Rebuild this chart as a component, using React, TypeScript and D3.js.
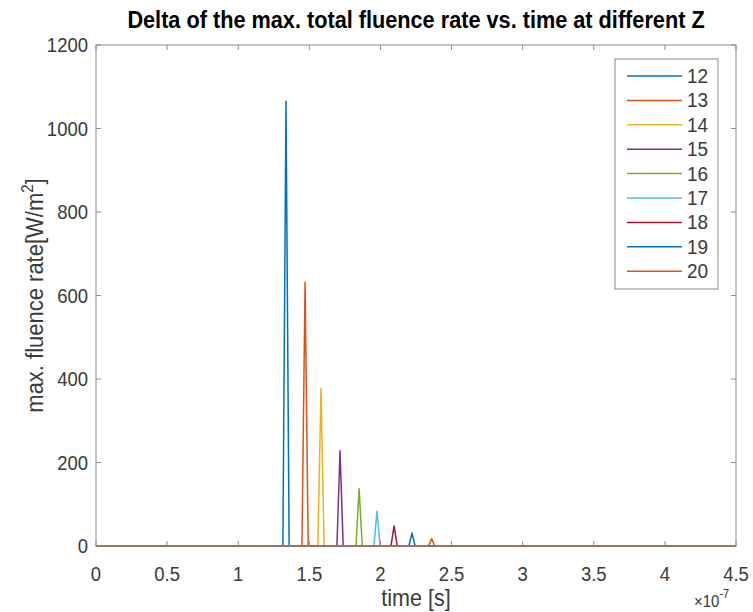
import React from 'react';
import * as d3 from 'd3';

// ---- data (time in units of 1e-7 s) ----
const seriesLabels = ['12', '13', '14', '15', '16', '17', '18', '19', '20'];
const peakTimes = [1.336, 1.47, 1.582, 1.716, 1.85, 1.976, 2.096, 2.222, 2.36];
const peakValues = [1065, 632, 377, 228, 137, 83, 48, 31, 17];
const sampleStep = 0.022;
const timeRange = [0, 4.5];
const xTicks = [0, 0.5, 1, 1.5, 2, 2.5, 3, 3.5, 4, 4.5];
const yTicks = [0, 200, 400, 600, 800, 1000, 1200];
const colors = ['#0072BD', '#D95319', '#EDB120', '#7E2F8E', '#77AC30', '#4DBEEE', '#A2142F', '#0072BD', '#D95319'];

const W = 753;
const H = 612;
const M = { left: 96, right: 17, top: 45, bottom: 66 };
const FONT = '"Liberation Sans", Arial, Helvetica, sans-serif';
const SY = 1.1; // vertical stretch of glyphs

function T(props: { x: number; y: number; anchor?: string; size: number; weight?: string; fill?: string; rotate?: number; children: React.ReactNode }) {
  const { x, y, anchor = 'start', size, weight = 'normal', fill = '#262626', rotate = 0, children } = props;
  return (
    <g transform={`translate(${x},${y}) rotate(${rotate}) scale(1,${SY})`}>
      <text x={0} y={0} textAnchor={anchor} fontSize={size} fontWeight={weight} fill={fill}>{children}</text>
    </g>
  );
}

export default function App() {
  const x = d3.scaleLinear().domain(timeRange).range([M.left, W - M.right]);
  const y = d3.scaleLinear().domain([0, 1200]).range([H - M.bottom, M.top]);
  const line = d3.line<[number, number]>().x((d) => x(d[0])).y((d) => y(d[1]));

  const series = seriesLabels.map((lab, i) => {
    const t = peakTimes[i];
    const pts: [number, number][] = [
      [timeRange[0], 0],
      [t - sampleStep, 0],
      [t, peakValues[i]],
      [t + sampleStep, 0],
      [timeRange[1], 0],
    ];
    return { lab, color: colors[i], d: line(pts) || '' };
  });

  const x0 = M.left, x1 = W - M.right, y0 = H - M.bottom, y1 = M.top;
  const axisColor = '#8c8c8c';
  const textColor = '#3a3a3a';
  const tl = 5;

  const lgX = 615, lgY = 59, lgW = 103, lgH = 230, lgStep = 24.4;

  return (
    <svg width={W} height={H} style={{ position: 'absolute', left: 0, top: 0, background: '#fff' }}
      fontFamily={FONT}>
      <rect x={0} y={0} width={W} height={H} fill="#ffffff" />
      <defs>
        <clipPath id="clip"><rect x={x0} y={y1} width={x1 - x0} height={y0 - y1 + 1} /></clipPath>
      </defs>
      <g clipPath="url(#clip)">
        {series.map((s) => (
          <path key={s.lab} d={s.d} fill="none" stroke={s.color} strokeWidth={1.5} strokeLinejoin="round" />
        ))}
      </g>
      {/* axes box */}
      <rect x={x0} y={y1} width={x1 - x0} height={y0 - y1} fill="none" stroke={axisColor} strokeWidth={1} />
      {xTicks.map((t) => (
        <g key={'xt' + t}>
          <line x1={x(t)} x2={x(t)} y1={y0} y2={y0 - tl} stroke={axisColor} />
          <line x1={x(t)} x2={x(t)} y1={y1} y2={y1 + tl} stroke={axisColor} />
          <T x={x(t)} y={y0 + 35} anchor="middle" size={18.5} fill={textColor}>{String(t)}</T>
        </g>
      ))}
      {yTicks.map((t) => (
        <g key={'yt' + t}>
          <line x1={x0} x2={x0 + tl} y1={y(t)} y2={y(t)} stroke={axisColor} />
          <line x1={x1} x2={x1 - tl} y1={y(t)} y2={y(t)} stroke={axisColor} />
          <T x={x0 - 8} y={y(t) + 7} anchor="end" size={18.5} fill={textColor}>{String(t)}</T>
        </g>
      ))}
      <T x={(x0 + x1) / 2} y={28} anchor="middle" size={21.7} weight="bold" fill="#000">
        Delta of the max. total fluence rate vs. time at different Z
      </T>
      <T x={(x0 + x1) / 2} y={606} anchor="middle" size={21.5} fill={textColor}>time [s]</T>
      <T x={694} y={607} size={15} fill={textColor}>
        ×10<tspan dy={-8} fontSize={11}>-7</tspan>
      </T>
      <T x={43} y={(y0 + y1) / 2} rotate={-90} anchor="middle" size={22} fill={textColor}>
        max. fluence rate[W/m<tspan dy={-9} fontSize={15}>2</tspan><tspan dy={9}>]</tspan>
      </T>
      {/* legend */}
      <rect x={lgX} y={lgY} width={lgW} height={lgH} fill="#fff" stroke={axisColor} strokeWidth={1} />
      {series.map((s, i) => (
        <g key={'lg' + s.lab}>
          <line x1={lgX + 12} x2={lgX + 67} y1={lgY + 17 + i * lgStep} y2={lgY + 17 + i * lgStep} stroke={s.color} strokeWidth={1.5} />
          <T x={lgX + 72} y={lgY + 24 + i * lgStep} size={19} fill={textColor}>{s.lab}</T>
        </g>
      ))}
    </svg>
  );
}
